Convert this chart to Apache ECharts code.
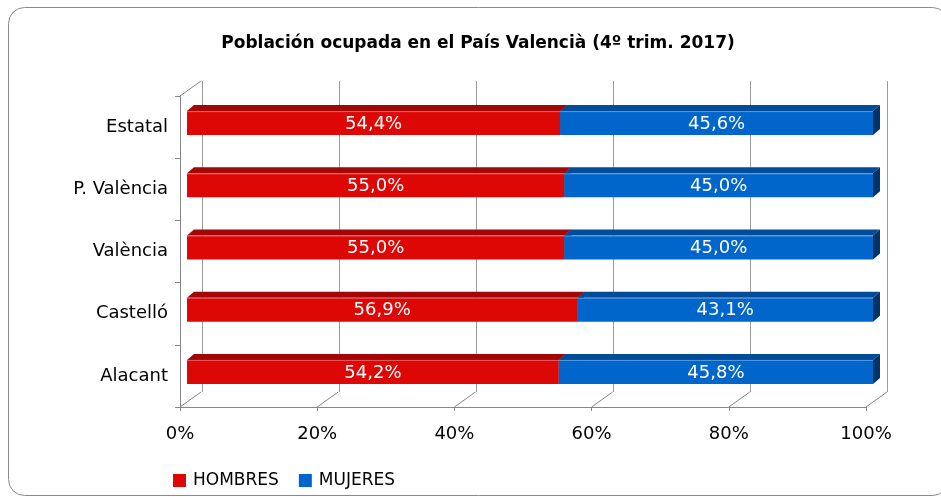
<!DOCTYPE html>
<html>
<head>
<meta charset="utf-8">
<script src="https://cdn.jsdelivr.net/npm/echarts@6/dist/echarts.min.js"></script>
<style>
  html, body { margin: 0; padding: 0; background: #fff; }
  #main { width: 941px; height: 497px; }
</style>
</head>
<body>
<div id="main"></div>
<script>
// datos (% sobre el total de ocupados)
var categorias = ['Alacant', 'Castelló', 'València', 'P. València', 'Estatal']
var hombres = [54.2, 56.9, 55.0, 55.0, 54.4]
var mujeres = [45.8, 43.1, 45.0, 45.0, 45.6]
var ticksX = [0, 20, 40, 60, 80, 100]

var FONT = 'DejaVu Sans'
var ROJO = { front: '#DD0806', top: '#A30606', side: '#7A0404' }
var AZUL = { front: '#0066CC', top: '#004C98', side: '#003366' }

// desplazamiento de la profundidad (barra en el tercio central)
var DX = 7
var DY = 6
var ALTO = 24

function fmt (v) {
  return v.toFixed(1).replace('.', ',') + '%'
}

function barra (col) {
  return function (params, api) {
    var cat = api.value(0)
    var a = api.value(1)
    var b = api.value(2)
    var p0 = api.coord([a, cat])
    var p1 = api.coord([b, cat])
    var cy = p0[1] - 4
    var x0 = p0[0] + DX
    var x1 = p1[0] + DX
    var yt = cy - ALTO / 2
    var yb = cy + ALTO / 2
    return {
      type: 'group',
      children: [{
        type: 'polygon',
        shape: { points: [[x0, yt], [x1, yt], [x1 + DX, yt - DY], [x0 + DX, yt - DY]] },
        style: { fill: col.top }
      }, {
        type: 'polygon',
        shape: { points: [[x1, yt], [x1 + DX, yt - DY], [x1 + DX, yb - DY], [x1, yb]] },
        style: { fill: col.side }
      }, {
        type: 'rect',
        shape: { x: x0, y: yt, width: x1 - x0, height: ALTO },
        style: { fill: col.front }
      }, {
        type: 'line',
        shape: { x1: x0, y1: yt + 0.5, x2: x1, y2: yt + 0.5 },
        style: { stroke: 'rgba(255,255,255,0.35)', lineWidth: 1 }
      }, {
        type: 'text',
        style: {
          text: fmt(b - a),
          x: (x0 + x1) / 2,
          y: cy + 1,
          align: 'center',
          verticalAlign: 'middle',
          fill: '#fff',
          fontSize: 18,
          fontFamily: FONT
        }
      }]
    }
  }
}

var dataH = categorias.map(function (c, i) { return [i, 0, hombres[i]] })
var dataM = categorias.map(function (c, i) { return [i, hombres[i], hombres[i] + mujeres[i]] })

var chartDom = document.getElementById('main')
var myChart = echarts.init(chartDom)
var option = {
  backgroundColor: '#fff',
  animation: false,
  graphic: [{
    type: 'rect',
    shape: { x: 8.5, y: 7.5, width: 940, height: 488, r: 16 },
    style: { fill: 'none', stroke: '#8a8a8a', lineWidth: 1 },
    silent: true,
    z: -10
  }, {
    type: 'text',
    x: 478,
    y: 44,
    style: {
      text: 'Población ocupada en el País Valencià (4º trim. 2017)',
      align: 'center',
      verticalAlign: 'middle',
      fontFamily: FONT,
      fontSize: 17,
      fontWeight: 'bold',
      fill: '#000'
    },
    silent: true
  }],
  legend: {
    left: 168,
    top: 467,
    itemWidth: 13,
    itemHeight: 13,
    itemGap: 20,
    icon: 'rect',
    textStyle: { fontFamily: FONT, fontSize: 17, color: '#000', padding: [0, 0, 0, 2] },
    data: ['HOMBRES', 'MUJERES']
  },
  grid: [
    { left: 180, right: 75, top: 96, bottom: 90 }, // plano frontal
    { left: 202, right: 54, top: 81, bottom: 105 } // pared del fondo
  ],
  xAxis: [{
    type: 'value',
    gridIndex: 0,
    min: 0,
    max: 100,
    interval: 20,
    axisLine: { show: true, lineStyle: { color: '#868686' } },
    axisTick: { show: true, length: 4, lineStyle: { color: '#868686' } },
    splitLine: { show: false },
    axisLabel: { formatter: '{value}%', fontFamily: FONT, fontSize: 18, color: '#000', margin: 18 }
  }, {
    type: 'value',
    gridIndex: 1,
    min: 0,
    max: 100,
    interval: 20,
    axisLine: { show: false },
    axisTick: { show: false },
    axisLabel: { show: false },
    splitLine: { show: true, lineStyle: { color: '#9a9a9a' } }
  }],
  yAxis: [{
    type: 'category',
    gridIndex: 0,
    data: categorias,
    axisLine: { show: true, lineStyle: { color: '#868686' } },
    axisTick: { show: true, length: 5, lineStyle: { color: '#868686' } },
    axisLabel: { fontFamily: FONT, fontSize: 18, color: '#000', margin: 12 }
  }, {
    type: 'value',
    gridIndex: 1,
    show: false
  }],
  series: [{
    name: 'marco',
    type: 'custom',
    xAxisIndex: 0,
    yAxisIndex: 0,
    silent: true,
    clip: false,
    z: 1,
    encode: { x: 0, y: 1 },
    renderItem: function (params, api) {
      var cs = params.coordSys
      var px = api.coord([api.value(0), 0])[0]
      var yb = cs.y + cs.height
      var kids = [{
        type: 'line',
        shape: { x1: px, y1: yb, x2: px + 3 * DX, y2: yb - 15 },
        style: { stroke: '#868686', lineWidth: 1 }
      }]
      if (api.value(0) === 0) {
        kids.push({
          type: 'line',
          shape: { x1: cs.x, y1: cs.y, x2: cs.x + 3 * DX, y2: cs.y - 15 },
          style: { stroke: '#868686', lineWidth: 1 }
        })
      }
      return { type: 'group', children: kids }
    },
    data: ticksX.map(function (v) { return [v, 0] })
  }, {
    name: 'HOMBRES',
    type: 'custom',
    xAxisIndex: 0,
    yAxisIndex: 0,
    clip: false,
    z: 3,
    itemStyle: { color: ROJO.front },
    encode: { x: [1, 2], y: 0 },
    renderItem: barra(ROJO),
    data: dataH
  }, {
    name: 'MUJERES',
    type: 'custom',
    xAxisIndex: 0,
    yAxisIndex: 0,
    clip: false,
    z: 3,
    itemStyle: { color: AZUL.front },
    encode: { x: [1, 2], y: 0 },
    renderItem: barra(AZUL),
    data: dataM
  }]
}
option && myChart.setOption(option)
</script>
</body>
</html>
